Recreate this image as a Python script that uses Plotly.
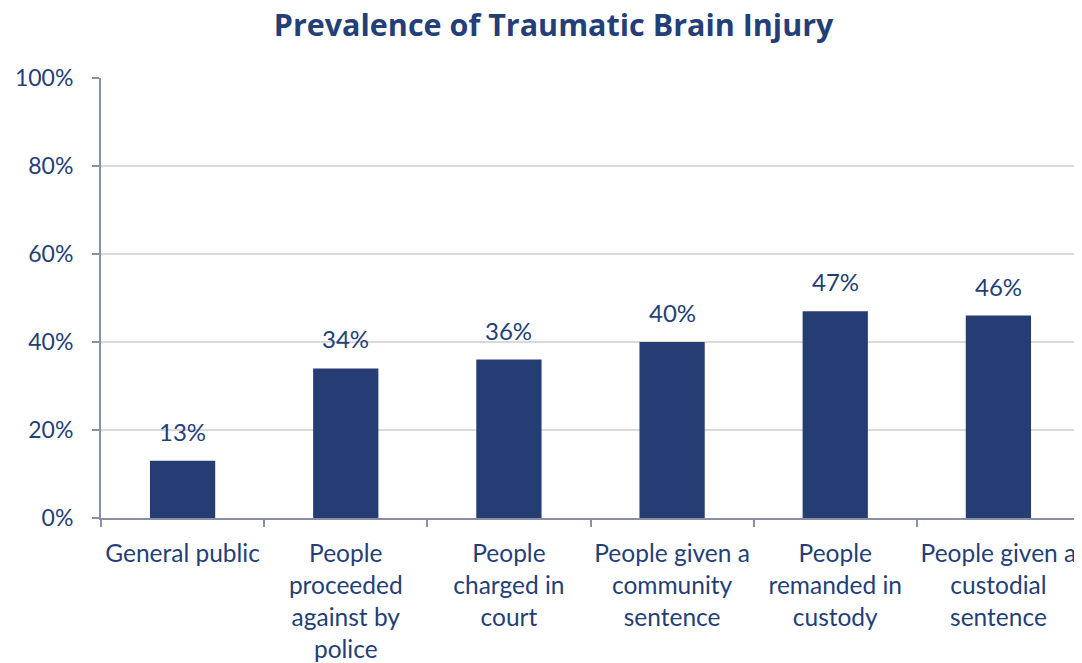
import plotly.graph_objects as go

categories = ["General public", "People<br>proceeded<br>against by<br>police", "People<br>charged in<br>court",
              "People given a<br>community<br>sentence", "People<br>remanded in<br>custody", "People given a<br>custodial<br>sentence"]
values = [13, 34, 36, 40, 47, 46]
y_ticks = [0, 20, 40, 60, 80, 100]
y_tick_labels = ["0%", "20%", "40%", "60%", "80%", "100%"]

navy = "#243F78"
bar_color = "#253D73"
axis_color = "#8A8FA8"
font = "Lato"

fig = go.Figure()
fig.add_trace(go.Bar(x=list(range(len(categories))), y=values, marker_color=bar_color, width=0.4,
                     marker_line_width=0))

for i, v in enumerate(values):
    fig.add_annotation(x=i, y=v, text=f"{v}%", showarrow=False, yanchor="bottom", yshift=13,
                       font=dict(family=font, size=24, color=navy))

fig.update_layout(
    width=1074, height=655,
    margin=dict(l=93, r=2, t=70, b=145),
    paper_bgcolor="white", plot_bgcolor="white",
    title=dict(text="<b>Prevalence of Traumatic Brain Injury</b>", x=0.508, xanchor="center",
               y=0.974, yanchor="middle", font=dict(family="Open Sans", size=30.5, color=navy)),
    showlegend=False,
)
fig.update_xaxes(
    tickmode="array", tickvals=list(range(len(categories))), ticktext=categories,
    range=[-0.5, len(categories) - 0.5], automargin=False,
    showline=True, linecolor=axis_color, linewidth=2,
    ticks="", showgrid=False, tickangle=0, ticklabelstandoff=13,
    tickfont=dict(family=font, size=24.5, color=navy),
)
fig.update_xaxes(minor=dict(tickmode="array", tickvals=[i - 0.5 for i in range(len(categories) + 1)],
                            ticks="outside", ticklen=7, tickcolor=axis_color, tickwidth=2, showgrid=False))
fig.update_yaxes(
    range=[0, 100], tickmode="array", tickvals=y_ticks, ticktext=y_tick_labels, automargin=False,
    showline=True, linecolor=axis_color, linewidth=2,
    ticks="outside", ticklen=7, tickcolor=axis_color, tickwidth=2, ticklabelstandoff=14,
    showgrid=True, gridcolor="#D9D9D9", gridwidth=1.5, zeroline=False,
    tickfont=dict(family=font, size=23, color=navy),
)

fig.write_html("out.html")
